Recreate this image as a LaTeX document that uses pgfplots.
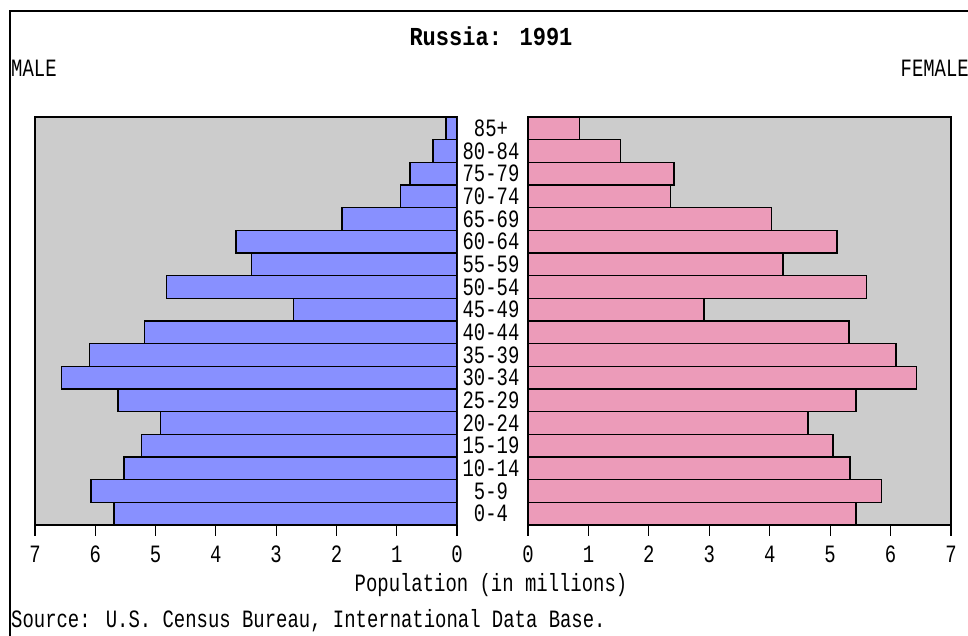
\documentclass[border=0pt]{standalone}
\usepackage{pgfplots}
\pgfplotsset{compat=1.18}
\usepackage{pgfplotstable}
\usepackage{fontspec}
\setmainfont[FakeStretch=0.76]{Liberation Mono}
\newfontfamily\titlefont[FakeStretch=0.85]{Liberation Mono Bold}
\newcommand\tf{\fontsize{25}{26}\selectfont}
\definecolor{male}{RGB}{136,144,255}
\definecolor{female}{RGB}{236,155,185}
\definecolor{bg}{RGB}{204,204,204}

\pgfplotstableread{
idx male female
0 5.69 5.43
1 6.07 5.85
2 5.52 5.33
3 5.23 5.05
4 4.92 4.63
5 5.62 5.43
6 6.56 6.43
7 6.10 6.09
8 5.18 5.31
9 2.71 2.91
10 4.82 5.60
11 3.41 4.22
12 3.67 5.11
13 1.91 4.03
14 0.94 2.36
15 0.78 2.42
16 0.40 1.53
17 0.18 0.85
}\data

\pgfplotsset{pyr/.style={
  scale only axis, width=422bp, height=408bp,
  xmin=0, xmax=7, ymin=-0.5, ymax=17.5,
  xbar, bar width=1,
  axis background/.style={fill=bg},
  axis line style={line width=1.5bp},
  xtick={0,...,7}, xtick pos=bottom, tick align=outside,
  major tick length=11bp,
  tick style={line width=1.2bp, black},
  ytick=\empty,
  /pgf/number format/assume math mode=true,
  xticklabel style={font=\tf, anchor=center, yshift=-18bp},
  anchor=south west,
}}

\begin{document}
\begin{tikzpicture}[x=1bp,y=1bp]
\useasboundingbox (0,0) rectangle (968,636);
\draw[line width=2bp] (10,0) -- (10,625) -- (968,625);
\node[font=\titlefont\fontsize{26}{28}\selectfont] at (491,600) {Russia: 1991};
\node[font=\tf, anchor=west, inner sep=0pt] at (11,568) {MALE};
\node[font=\tf, anchor=east, inner sep=0pt] at (969,568) {FEMALE};
\node[font=\tf] at (491,51) {Population (in millions)};
\node[font=\tf, anchor=west, inner sep=0pt] at (11,15) {Source: U.S. Census Bureau, International Data Base.};

\begin{axis}[pyr, at={(35bp,111bp)}, x dir=reverse]
\addplot[draw=black, line width=1.5bp, fill=male] table[x=male, y=idx] {\data};
\end{axis}

\begin{axis}[pyr, at={(528bp,111bp)}, width=423bp,
  ytick={0,...,17},
  yticklabels={0-4,5-9,10-14,15-19,20-24,25-29,30-34,35-39,40-44,45-49,50-54,55-59,60-64,65-69,70-74,75-79,80-84,85+},
  ytick pos=left,
  y tick style={draw=none},
  yticklabel style={font=\tf, anchor=center, xshift=-26bp},
]
\addplot[draw=black, line width=1.5bp, fill=female] table[x=female, y=idx] {\data};
\end{axis}
\end{tikzpicture}
\end{document}
